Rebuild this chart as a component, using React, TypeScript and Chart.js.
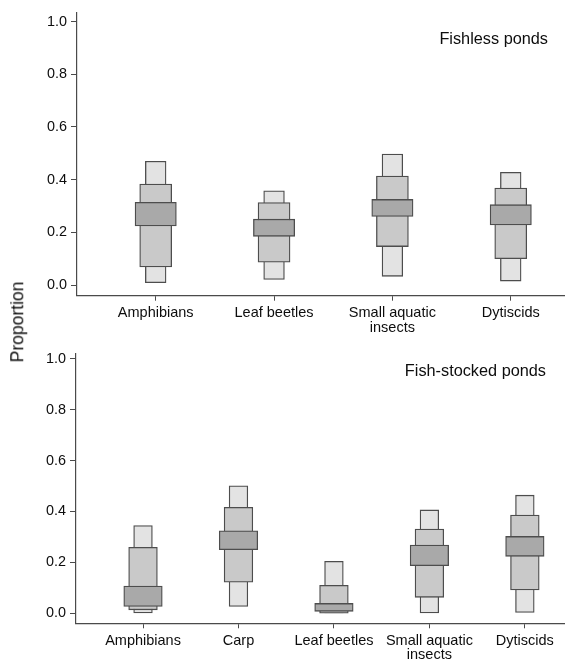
import React, { useEffect, useRef } from "react";
import { Chart, registerables } from "chart.js";

Chart.register(...registerables);

// ---------- Data ----------
const fishlessLabels: (string | string[])[] = ["Amphibians", "Leaf beetles", ["Small aquatic", "insects"], "Dytiscids"];
const fishlessOuterLow = [0.009, 0.021, 0.033, 0.015];
const fishlessOuterHigh = [0.470, 0.358, 0.497, 0.428];
const fishlessMidLow = [0.069, 0.087, 0.146, 0.100];
const fishlessMidHigh = [0.383, 0.313, 0.414, 0.368];
const fishlessInnerLow = [0.224, 0.185, 0.260, 0.228];
const fishlessInnerHigh = [0.314, 0.250, 0.325, 0.305];

const stockedLabels: (string | string[])[] = ["Amphibians", "Carp", "Leaf beetles", ["Small aquatic", "insects"], "Dytiscids"];
const stockedOuterLow = [0.0, 0.027, 0.0, 0.0, 0.004];
const stockedOuterHigh = [0.345, 0.501, 0.204, 0.406, 0.464];
const stockedMidLow = [0.014, 0.122, 0.001, 0.063, 0.092];
const stockedMidHigh = [0.259, 0.416, 0.110, 0.331, 0.386];
const stockedInnerLow = [0.027, 0.250, 0.008, 0.187, 0.224];
const stockedInnerHigh = [0.107, 0.324, 0.039, 0.268, 0.302];

const yTicks = [0, 0.2, 0.4, 0.6, 0.8, 1.0];

const FONT = "'Liberation Sans', Arial, Helvetica, sans-serif";
const AXIS_COLOR = "#4a4a4a";
const TEXT_COLOR = "#0d0d0d";
const EDGE_COLOR = "#4d4d4d";
const LIGHT = "#e3e3e3";
const MID = "#c9c9c9";
const DARK = "#a9a9a9";

const titlePlugin = {
  id: "panelTitle",
  afterDraw(chart: any, _args: any, opts: any) {
    if (!opts || !opts.text) return;
    const ctx = chart.ctx;
    ctx.save();
    ctx.font = `${opts.size}px ${FONT}`;
    ctx.fillStyle = TEXT_COLOR;
    ctx.textAlign = "right";
    ctx.textBaseline = "middle";
    ctx.fillText(opts.text, opts.x, opts.y);
    ctx.restore();
  },
};

type PanelCfg = {
  labels: (string | string[])[];
  outerLow: number[];
  outerHigh: number[];
  midLow: number[];
  midHigh: number[];
  innerLow: number[];
  innerHigh: number[];
  title: string;
  titleX: number;
  titleY: number;
  xMin: number;
  xMax: number;
  yMin: number;
  yMax: number;
  padTop: number;
  yAxisWidth: number;
  xAxisHeight: number;
  widths: [number, number, number];
};

function makeData(lo: number[], hi: number[]) {
  return lo.map((l, i) => ({ x: i + 1, y: [l, hi[i]] }));
}

function Panel({ cfg, top }: { cfg: PanelCfg; top: number }) {
  const ref = useRef<HTMLCanvasElement>(null);
  useEffect(() => {
    if (!ref.current) return;
    const common = {
      borderColor: EDGE_COLOR,
      borderWidth: 1.3,
      borderSkipped: false as const,
      grouped: false,
    };
    const chart = new Chart(ref.current, {
      type: "bar",
      data: {
        datasets: [
          { ...common, data: makeData(cfg.outerLow, cfg.outerHigh), backgroundColor: LIGHT, barThickness: cfg.widths[0], order: 3 },
          { ...common, data: makeData(cfg.midLow, cfg.midHigh), backgroundColor: MID, barThickness: cfg.widths[1], order: 2 },
          { ...common, data: makeData(cfg.innerLow, cfg.innerHigh), backgroundColor: DARK, barThickness: cfg.widths[2], order: 1 },
        ] as any,
      },
      options: {
        responsive: false,
        animation: false,
        events: [],
        layout: { padding: { top: cfg.padTop, right: 1, left: 0, bottom: 0 } },
        plugins: {
          legend: { display: false },
          tooltip: { enabled: false },
          panelTitle: { text: cfg.title, x: cfg.titleX, y: cfg.titleY, size: 16.3 },
        } as any,
        scales: {
          x: {
            type: "linear",
            min: cfg.xMin,
            max: cfg.xMax,
            offset: false,
            afterBuildTicks: (scale: any) => {
              scale.ticks = cfg.labels.map((_, i) => ({ value: i + 1 }));
            },
            afterFit: (scale: any) => {
              scale.height = cfg.xAxisHeight;
            },
            grid: { display: true, drawOnChartArea: false, drawTicks: true, tickLength: 5, color: AXIS_COLOR, offset: false },
            border: { display: true, color: AXIS_COLOR, width: 1.2 },
            ticks: {
              autoSkip: false,
              maxRotation: 0,
              padding: 5,
              color: TEXT_COLOR,
              font: { family: FONT, size: 14.5, lineHeight: 1.02 },
              callback: (v: any) => cfg.labels[Math.round(Number(v)) - 1] as any,
            },
          },
          y: {
            type: "linear",
            min: cfg.yMin,
            max: cfg.yMax,
            afterBuildTicks: (scale: any) => {
              scale.ticks = yTicks.map((v) => ({ value: v }));
            },
            afterFit: (scale: any) => {
              scale.width = cfg.yAxisWidth;
            },
            grid: { display: true, drawOnChartArea: false, drawTicks: true, tickLength: 6, color: AXIS_COLOR },
            border: { display: true, color: AXIS_COLOR, width: 1.2 },
            ticks: {
              padding: 4,
              color: TEXT_COLOR,
              font: { family: FONT, size: 14.4 },
              callback: (v: any) => Number(v).toFixed(1),
            },
          },
        },
      } as any,
      plugins: [titlePlugin],
    });
    return () => chart.destroy();
  }, [cfg]);
  return (
    <canvas
      ref={ref}
      width={565}
      height={332}
      style={{ position: "absolute", left: 0, top, width: 565, height: 332 }}
    />
  );
}

const topCfg: PanelCfg = {
  labels: fishlessLabels,
  outerLow: fishlessOuterLow,
  outerHigh: fishlessOuterHigh,
  midLow: fishlessMidLow,
  midHigh: fishlessMidHigh,
  innerLow: fishlessInnerLow,
  innerHigh: fishlessInnerHigh,
  title: "Fishless ponds",
  titleX: 548,
  titleY: 40,
  xMin: 0.335,
  xMax: 4.45,
  yMin: -0.0405,
  yMax: 1.034,
  padTop: 11.7,
  yAxisWidth: 77,
  xAxisHeight: 36.3,
  widths: [20.7, 32, 41.3],
};

const bottomCfg: PanelCfg = {
  labels: stockedLabels,
  outerLow: stockedOuterLow,
  outerHigh: stockedOuterHigh,
  midLow: stockedMidLow,
  midHigh: stockedMidHigh,
  innerLow: stockedInnerLow,
  innerHigh: stockedInnerHigh,
  title: "Fish-stocked ponds",
  titleX: 546,
  titleY: 39.7,
  xMin: 0.298,
  xMax: 5.41,
  yMin: -0.039,
  yMax: 1.021,
  padTop: 21.3,
  yAxisWidth: 76,
  xAxisHeight: 40.7,
  widths: [18.7, 28.7, 38.5],
};

export default function App() {
  return (
    <div style={{ position: "absolute", left: 0, top: 0, width: 565, height: 664, background: "#fff", overflow: "hidden" }}>
      <Panel cfg={topCfg} top={0} />
      <Panel cfg={bottomCfg} top={332} />
      <div
        style={{
          position: "absolute",
          left: 17.5,
          top: 322,
          transform: "translate(-50%, -50%) rotate(-90deg)",
          fontFamily: FONT,
          fontSize: 17.5,
          color: TEXT_COLOR,
          whiteSpace: "nowrap",
          lineHeight: 1,
        }}
      >
        Proportion
      </div>
    </div>
  );
}
